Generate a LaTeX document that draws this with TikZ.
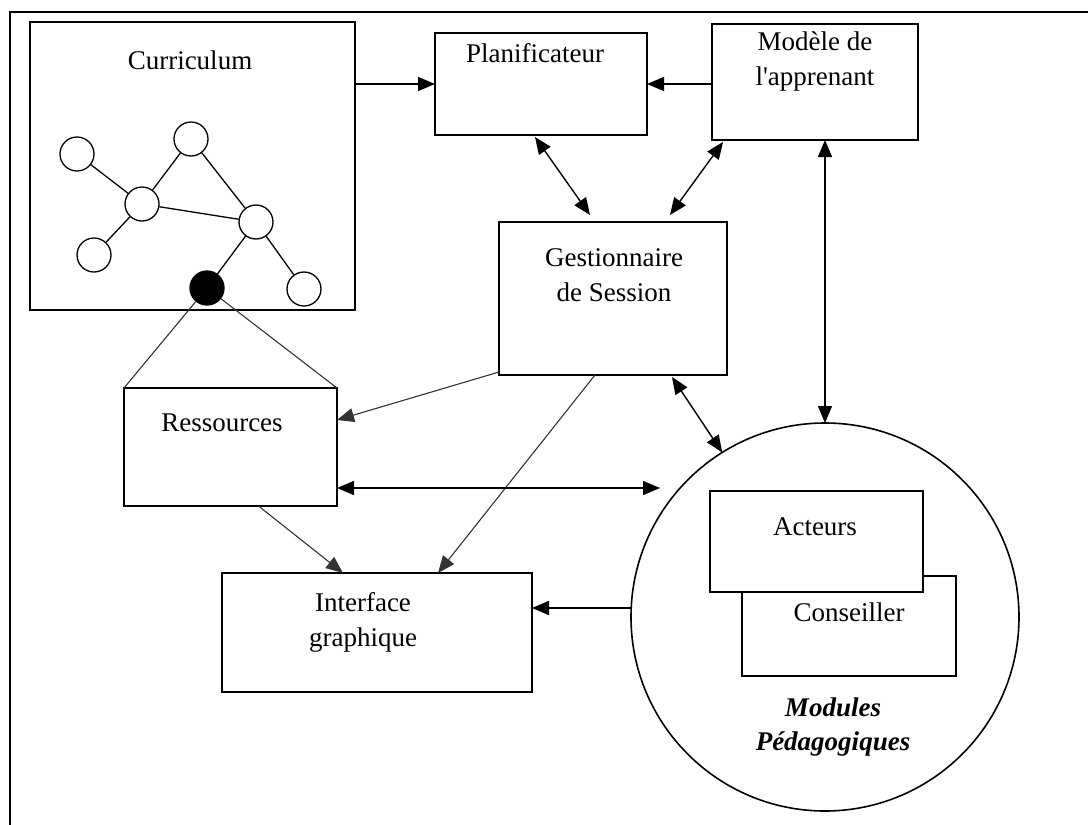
\documentclass[tikz,border=0pt]{standalone}
\usepackage{fontspec}
\setmainfont{Liberation Serif}
\usetikzlibrary{arrows.meta,calc}
\begin{document}
\begin{tikzpicture}[x=1pt,y=-1pt,
  font=\fontsize{27}{35}\selectfont,
  box/.style={draw, line width=1.8pt, fill=white, inner sep=0pt, outer sep=0pt},
  lbl/.style={align=center, inner sep=0pt},
  concept/.style={draw, circle, line width=1.3pt, minimum size=34pt, inner sep=0pt, fill=white},
  arr/.style={line width=1.4pt, -{Triangle[length=17pt,width=14pt]}},
  darr/.style={line width=1.4pt, {Triangle[length=17pt,width=14pt]}-{Triangle[length=17pt,width=14pt]}},
  thinarr/.style={line width=1.1pt, draw=black!80, -{Triangle[length=17pt,width=14pt]}},
  edge/.style={line width=1.3pt}
]
\useasboundingbox (0,0) rectangle (1088,825);

% page frame
\draw[line width=1.5pt] (1088,12) -- (10,12) -- (10,825);

% main blocks
\node[box, minimum width=325pt, minimum height=288pt] (cur) at (192.5,166) {};
\node[box, minimum width=212pt, minimum height=102pt] (plan) at (541,84) {};
\node[box, minimum width=206pt, minimum height=116pt] (mod) at (815,82) {};
\node[box, minimum width=228pt, minimum height=153pt] (gest) at (613,298.5) {};
\node[box, minimum width=213pt, minimum height=118pt] (res) at (230.5,447) {};
\node[box, minimum width=310pt, minimum height=119pt] (intf) at (377,632.5) {};
\node[draw, circle, line width=1.6pt, minimum size=388pt, inner sep=0pt, outer sep=0pt] (mp) at (825,617) {};
\node[box, minimum width=214pt, minimum height=100pt] (cons) at (849,626) {};
\node[box, minimum width=213pt, minimum height=101pt] (act) at (816.5,541.5) {};

% labels
\node[lbl] (tcur) at (190,60) {Curriculum};
\node[lbl] (tplan) at (535,53) {Planificateur};
\node[lbl] (tmod) at (815,61) {Modèle de\\l\textquotesingle apprenant};
\node[lbl] (tgest) at (614,275) {Gestionnaire\\de Session};
\node[lbl] (tres) at (222,423) {Ressources};
\node[lbl] (tintf) at (363,622) {Interface\\graphique};
\node[lbl] (tact) at (815,527) {Acteurs};
\node[lbl] (tcons) at (849,612) {Conseiller};
\node[lbl, font=\fontsize{27}{34}\selectfont\bfseries\itshape] (tmp) at (833,727) {Modules\\Pédagogiques};

% curriculum graph
\node[concept] (ca) at (77,154) {};
\node[concept] (cb) at (191,139) {};
\node[concept] (cc) at (142,204) {};
\node[concept] (cd) at (256,222) {};
\node[concept] (ce) at (94,255) {};
\node[concept] (cf) at (304,289) {};
\node[concept, fill=black] (cg) at (207,288) {};
\draw[edge] (ca) -- (cc);
\draw[edge] (cc) -- (cb);
\draw[edge] (cc) -- (ce);
\draw[edge] (cc) -- (cd);
\draw[edge] (cb) -- (cd);
\draw[edge] (cd) -- (cf);
\draw[edge] (cd) -- (cg);
\draw[edge, draw=black!80, line width=1.1pt] (cg) -- (res.north west);
\draw[edge, draw=black!80, line width=1.1pt] (cg) -- (res.north east);

% connectors
\draw[arr] (cur.east |- plan.west) -- (plan.west);
\draw[arr] (mod.west |- plan.east) -- (plan.east);
\draw[darr] ($(plan.south)+(-6,2)$) -- ($(gest.north)+(-23,-7)$);
\draw[darr] ($(mod.south west)+(11,2)$) -- ($(gest.north)+(57,-7)$);
\draw[darr] (mod.south -| mp.north) -- (mp.north);
\draw[thinarr] ($(gest.south west)+(0,-3)$) -- ($(res.east)+(0,-27)$);
\draw[thinarr] ($(gest.south)+(-18,0)$) -- ($(intf.north)+(61,0)$);
\draw[darr] ($(gest.south)+(59,2)$) -- (mp.122);
\draw[darr] ($(res.east)+(0,41)$) -- ($(mp.center)+(-165,-129)$);
\draw[thinarr] ($(res.south)+(28,0)$) -- ($(intf.north)+(-34,0)$);
\draw[arr] ($(mp.west)+(0,-9)$) -- ($(intf.east)+(0,-24.5)$);
\end{tikzpicture}
\end{document}
